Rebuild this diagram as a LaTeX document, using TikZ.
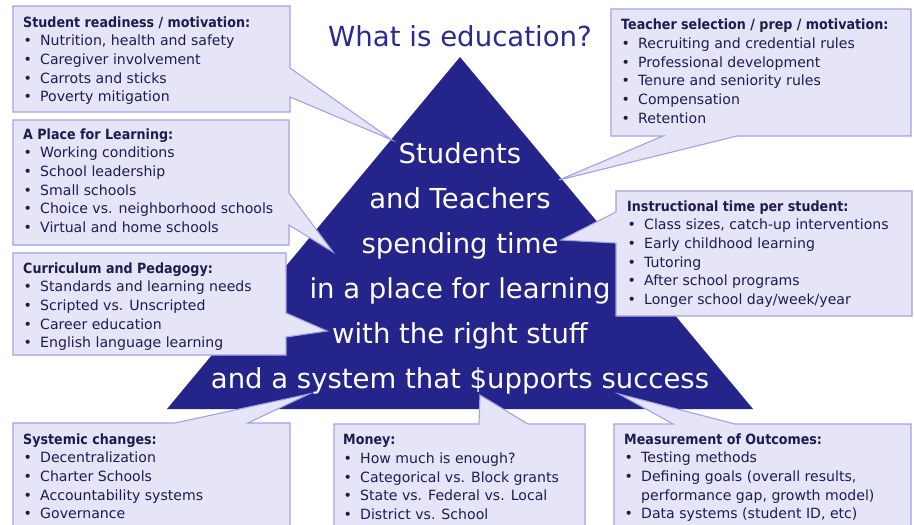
\documentclass[tikz,border=0pt]{standalone}
\usepackage{fontspec}
\setmainfont{DejaVu Sans}[BoldFeatures={FakeStretch=0.9}]

\definecolor{navy}{RGB}{36,36,138}
\definecolor{heading}{RGB}{42,42,150}
\definecolor{boxfill}{RGB}{229,229,247}
\definecolor{boxline}{RGB}{162,162,232}
\definecolor{ink}{RGB}{28,28,80}

% bullet with a fixed indent for the list items
\newcommand{\bul}{\makebox[17pt][l]{\hspace{0.5pt}\textbullet}}
\newcommand{\cont}{\hspace*{17pt}}

\begin{document}
\begin{tikzpicture}[x=1pt,y=-1pt,
   bubble/.style={fill=boxfill,draw=boxline,line width=1.1pt},
   list/.style={anchor=north west,inner sep=0pt,align=left,text=ink,
      font=\fontsize{14.1}{18.7}\selectfont},
   core/.style={anchor=north,inner sep=0pt,align=center,text=white,
      font=\fontsize{27.5}{45}\selectfont}]

\clip (0,0) rectangle (914,525);

% the pyramid
\coordinate (apex) at (460,57);
\coordinate (base west) at (167,409);
\coordinate (base east) at (753,409);
\fill[navy] (apex) -- (base west) -- (base east) -- cycle;

\node[anchor=base,inner sep=0pt,text=heading,font=\fontsize{27.6}{30}\selectfont]
   (title) at (460,46) {What is education?};

% left column
\coordinate (ready tip) at (392,140);
\path[bubble] (13,6) -| (290,68) -- (ready tip) -- (290,97) |- (13,112) -- cycle;
\node[list] (ready) at (23,16.2) {\textbf{Student readiness / motivation:}\\
   \bul Nutrition, health and safety\\
   \bul Caregiver involvement\\
   \bul Carrots and sticks\\
   \bul Poverty mitigation};

\coordinate (place tip) at (333,252);
\path[bubble] (13,120) -| (289,193) -- (place tip) -- (289,225) |- (13,245) -- cycle;
\node[list] (place) at (23,128.2) {\textbf{A Place for Learning:}\\
   \bul Working conditions\\
   \bul School leadership\\
   \bul Small schools\\
   \bul Choice vs. neighborhood schools\\
   \bul Virtual and home schools};

\coordinate (curric tip) at (327,331);
\path[bubble] (13,253) -| (286,313) -- (curric tip) -- (286,337) |- (13,355) -- cycle;
\node[list] (curric) at (23,262.2) {\textbf{Curriculum and Pedagogy:}\\
   \bul Standards and learning needs\\
   \bul Scripted vs. Unscripted\\
   \bul Career education\\
   \bul English language learning};

% right column
\coordinate (teacher tip) at (559,180);
\path[bubble] (611,9) -| (911,136) -- (737,136) -- (teacher tip) -- (663,136) -- (611,136) -- cycle;
\node[list] (teacher) at (621,18.7) {\textbf{Teacher selection / prep / motivation:}\\
   \bul Recruiting and credential rules\\
   \bul Professional development\\
   \bul Tenure and seniority rules\\
   \bul Compensation\\
   \bul Retention};

\coordinate (time tip) at (561,240);
\path[bubble] (616,191) -| (912,316) -| (616,243) -- (time tip) -- (616,212) -- cycle;
\node[list] (time) at (627,200.2) {\textbf{Instructional time per student:}\\
   \bul Class sizes, catch-up interventions\\
   \bul Early childhood learning\\
   \bul Tutoring\\
   \bul After school programs\\
   \bul Longer school day/week/year};

% bottom row
\coordinate (system tip) at (309,394);
\path[bubble] (13,540) |- (175,423) -- (system tip) -- (248,423) -| (290,540) -- cycle;
\node[list] (system) at (23,433.2) {\textbf{Systemic changes:}\\
   \bul Decentralization\\
   \bul Charter Schools\\
   \bul Accountability systems\\
   \bul Governance};

\coordinate (money tip) at (480,395);
\path[bubble] (334,540) |- (479,424) -- (money tip) -- (528,424) -| (585,540) -- cycle;
\node[list] (money) at (343,434.2) {\textbf{Money:}\\
   \bul How much is enough?\\
   \bul Categorical vs. Block grants\\
   \bul State vs. Federal vs. Local\\
   \bul District vs. School};

\coordinate (measure tip) at (619,394);
\path[bubble] (614,540) |- (673,424) -- (measure tip) -- (735,424) -| (911,540) -- cycle;
\node[list] (measure) at (624,433.2) {\textbf{Measurement of Outcomes:}\\
   \bul Testing methods\\
   \bul Defining goals (overall results,\\
   \cont performance gap, growth model)\\
   \bul Data systems (student ID, etc)};

% text on the pyramid
\node[core] (core) at (460,142.1) {Students\\and Teachers\\spending time\\in a place for learning\\with the right stuff\\and a system that \$upports success};

\end{tikzpicture}
\end{document}
